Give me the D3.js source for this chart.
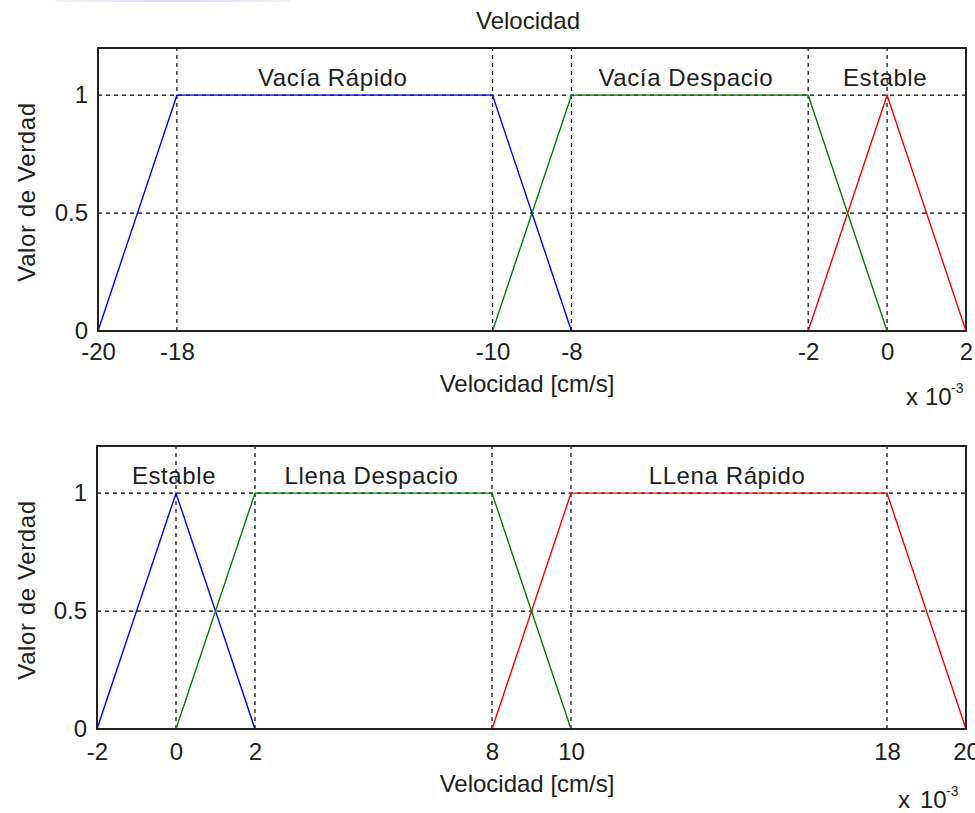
<!DOCTYPE html>
<html>
<head>
<meta charset="utf-8">
<style>
  body { margin: 0; background: #fff; }
  svg { display: block; font-family: "Liberation Sans", Arial, sans-serif; }
</style>
</head>
<body>
<svg id="chart"></svg>
<script src="https://d3js.org/d3.v7.min.js"></script>
<script>
// top panel: membership functions (x values in units of 1e-3 cm/s)
const topTicks = [-20, -18, -10, -8, -2, 0, 2];
const topNames = ["Vacía Rápido", "Vacía Despacio", "Estable"];
const topShapes = [
  [-20, -18, -10, -8],
  [-10, -8, -2, 0],
  [-2, 0, 2]
];
const topLabelX = [-14.05, -5.1, -0.05];

// bottom panel
const botTicks = [-2, 0, 2, 8, 10, 18, 20];
const botNames = ["Estable", "Llena Despacio", "LLena Rápido"];
const botShapes = [
  [-2, 0, 2],
  [0, 2, 8, 10],
  [8, 10, 18, 20]
];
const botLabelX = [-0.05, 4.95, 13.95];

const yTicks = [0, 0.5, 1];
const colors = ["#0000ff", "#008000", "#ff0000"];

const width = 975, height = 813;
const ink = "#202020";
const svg = d3.select("#chart").attr("width", width).attr("height", height);

// faint smudge at the top of the original screenshot
const grad = svg.append("defs").append("linearGradient").attr("id", "smudge");
grad.append("stop").attr("offset", "0").attr("stop-color", "#f2f2f8");
grad.append("stop").attr("offset", "0.5").attr("stop-color", "#d8d8ee");
grad.append("stop").attr("offset", "1").attr("stop-color", "#f2f2f8");
svg.append("rect").attr("x", 55).attr("y", 0).attr("width", 235).attr("height", 2)
  .attr("fill", "url(#smudge)");

function toPoints(s) {
  // trapezoid or triangle -> [x, membership]
  if (s.length === 3) return [[s[0], 0], [s[1], 1], [s[2], 0]];
  return [[s[0], 0], [s[1], 1], [s[2], 1], [s[3], 0]];
}

function panel(opts) {
  const g = svg.append("g");
  const x = d3.scaleLinear().domain(opts.domain).range([opts.left, opts.right]);
  const y = d3.scaleLinear().domain([0, 1.2]).range([opts.bottom, opts.top]);

  // grid
  g.selectAll(".vg").data(opts.ticks).enter().append("line")
    .attr("x1", d => x(d)).attr("x2", d => x(d))
    .attr("y1", opts.bottom).attr("y2", opts.top)
    .attr("stroke", "#000").attr("stroke-width", 1.2).attr("stroke-dasharray", "4,4");
  g.selectAll(".hg").data(yTicks.slice(1)).enter().append("line")
    .attr("x1", opts.left).attr("x2", opts.right)
    .attr("y1", d => y(d)).attr("y2", d => y(d))
    .attr("stroke", "#000").attr("stroke-width", 1.2).attr("stroke-dasharray", "4,4");

  // membership lines
  const line = d3.line().x(d => x(d[0])).y(d => y(d[1]));
  opts.shapes.forEach((s, i) => {
    g.append("path").datum(toPoints(s)).attr("d", line)
      .attr("fill", "none").attr("stroke", colors[i]).attr("stroke-width", 1.4);
  });

  // box
  g.append("rect").attr("x", opts.left).attr("y", opts.top)
    .attr("width", opts.right - opts.left).attr("height", opts.bottom - opts.top)
    .attr("fill", "none").attr("stroke", "#222").attr("stroke-width", 2);

  // axes
  const xa = g.append("g").attr("transform", `translate(0,${opts.bottom})`)
    .call(d3.axisBottom(x).tickValues(opts.ticks).tickSize(0).tickPadding(0).tickFormat(d => String(d)));
  xa.select(".domain").remove();
  xa.selectAll("text").attr("font-size", 24).attr("fill", ink)
    .attr("font-family", "Liberation Sans, Arial, sans-serif")
    .attr("dy", null).attr("y", opts.tickBase);

  const ya = g.append("g").attr("transform", `translate(${opts.left},0)`)
    .call(d3.axisLeft(y).tickValues(yTicks).tickSize(0).tickPadding(10).tickFormat(d => String(d)));
  ya.select(".domain").remove();
  ya.selectAll("text").attr("font-size", 24).attr("fill", ink)
    .attr("font-family", "Liberation Sans, Arial, sans-serif");

  // set names
  opts.names.forEach((n, i) => {
    g.append("text").attr("x", x(opts.labelX[i])).attr("y", y(1) - 9)
      .attr("text-anchor", "middle").attr("font-size", 24).attr("letter-spacing", 0.6)
      .attr("fill", ink).text(n);
  });

  // labels
  g.append("text").attr("x", 527).attr("y", opts.xlabBase)
    .attr("text-anchor", "middle").attr("font-size", 24).attr("fill", ink).text("Velocidad [cm/s]");
  g.append("text").attr("transform", `translate(35,${opts.ylabMid}) rotate(-90)`)
    .attr("text-anchor", "middle").attr("font-size", 24).attr("letter-spacing", 0.6)
    .attr("fill", ink).text("Valor de Verdad");
  const ex = opts.exp;
  g.append("text").attr("x", ex.x).attr("y", ex.base).attr("font-size", 24).attr("fill", ink).text("x");
  g.append("text").attr("x", ex.ten).attr("y", ex.base).attr("font-size", 24).attr("fill", ink).text("10");
  g.append("text").attr("x", ex.ten + 26).attr("y", ex.base - 12).attr("font-size", 14).attr("fill", ink).text("-3");
  return g;
}

panel({ domain: [-20, 2], left: 98, right: 966, top: 48, bottom: 331,
  ticks: topTicks, shapes: topShapes, names: topNames, labelX: topLabelX,
  tickBase: 29, xlabBase: 392, ylabMid: 192, exp: { x: 906, ten: 925, base: 405 } });
panel({ domain: [-2, 20], left: 97, right: 966, top: 446, bottom: 729,
  ticks: botTicks, shapes: botShapes, names: botNames, labelX: botLabelX,
  tickBase: 31, xlabBase: 792, ylabMid: 590, exp: { x: 898, ten: 920, base: 808 } });

svg.append("text").attr("x", 528).attr("y", 29).attr("text-anchor", "middle")
  .attr("font-size", 24).attr("fill", ink).text("Velocidad");
</script>
</body>
</html>
